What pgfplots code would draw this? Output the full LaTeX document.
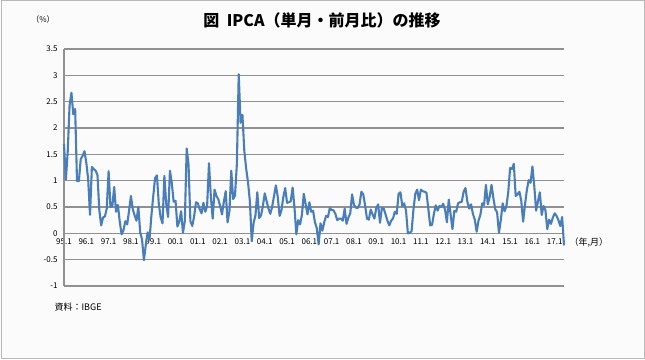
\documentclass[border=0pt]{standalone}
\usepackage{pgfplots}
\pgfplotsset{compat=1.18}
\usepackage{fontspec}
\setmainfont{Noto Sans CJK JP}
\definecolor{lineblue}{RGB}{74,126,187}
\definecolor{gridgray}{RGB}{145,145,145}
\begin{document}
\begin{tikzpicture}
\useasboundingbox (0pt,0pt) rectangle (645pt,359pt);
\fill[white!97!gray] (0pt,0pt) rectangle (645pt,359pt);
\node[font=\fontsize{16}{19}\selectfont\bfseries] at (322pt,339pt) {図\ \ IPCA（単月・前月比）の推移};
\node[font=\fontsize{8}{9}\selectfont] at (43pt,340pt) {（\%）};
\node[font=\fontsize{9}{10}\selectfont, anchor=west] at (566pt,116pt) {（年,月）};
\node[font=\fontsize{9}{10}\selectfont, anchor=west] at (51pt,52pt) {資料：IBGE};
\begin{axis}[
  at={(64pt,73pt)}, anchor=south west,
  width=500pt, height=237pt, scale only axis,
  xmin=0, xmax=269, ymin=-1, ymax=3.5,
  axis line style={draw=none},
  ytick={-1,-0.5,0,0.5,1,1.5,2,2.5,3,3.5},
  yticklabels={-1,-0.5,0,0.5,1,1.5,2,2.5,3,3.5},
  xtick={0,12,24,36,48,60,72,84,96,108,120,132,144,156,168,180,192,204,216,228,240,252,264},
  xticklabels={95.1,96.1,97.1,98.1,99.1,00.1,01.1,02.1,03.1,04.1,05.1,06.1,07.1,08.1,09.1,10.1,11.1,12.1,13.1,14.1,15.1,16.1,17.1},
  tick style={draw=none},
  tick label style={font=\fontsize{8}{9}\selectfont},
  xticklabel style={yshift=50.7pt},
  yticklabel style={xshift=-3pt},
  /pgf/number format/assume math mode=true,
  clip=false,
]
\addplot[gridgray, line width=1.2pt, forget plot] coordinates {(0,-1) (269,-1)};
\addplot[gridgray, line width=1.2pt, forget plot] coordinates {(0,-0.5) (269,-0.5)};
\addplot[gridgray, line width=1.2pt, forget plot] coordinates {(0,0) (269,0)};
\addplot[gridgray, line width=1.2pt, forget plot] coordinates {(0,0.5) (269,0.5)};
\addplot[gridgray, line width=1.2pt, forget plot] coordinates {(0,1) (269,1)};
\addplot[gridgray, line width=1.2pt, forget plot] coordinates {(0,1.5) (269,1.5)};
\addplot[gridgray, line width=1.2pt, forget plot] coordinates {(0,2) (269,2)};
\addplot[gridgray, line width=1.2pt, forget plot] coordinates {(0,2.5) (269,2.5)};
\addplot[gridgray, line width=1.2pt, forget plot] coordinates {(0,3) (269,3)};
\addplot[gridgray, line width=1.2pt, forget plot] coordinates {(0,3.5) (269,3.5)};
\addplot[gridgray, line width=1.2pt, forget plot] coordinates {(0,-1) (0,3.5)};
\addplot[lineblue, line width=2.1pt, line join=round] table[x expr=\coordindex, y index=0, header=false] {
1.70
1.02
1.55
2.43
2.67
2.26
2.36
0.99
0.99
1.41
1.47
1.56
1.34
1.03
0.35
1.26
1.22
1.19
1.11
0.44
0.15
0.30
0.32
0.47
1.18
0.50
0.51
0.88
0.41
0.54
0.22
-0.02
0.06
0.23
0.17
0.43
0.71
0.46
0.34
0.24
0.50
0.02
-0.12
-0.51
-0.22
0.02
-0.12
0.33
0.70
1.05
1.10
0.56
0.30
0.19
1.09
0.56
0.31
1.19
0.95
0.60
0.62
0.13
0.22
0.42
0.01
0.23
1.61
1.31
0.23
0.14
0.32
0.59
0.57
0.46
0.38
0.58
0.41
0.52
1.33
0.70
0.28
0.83
0.71
0.65
0.52
0.36
0.60
0.80
0.21
0.42
1.19
0.65
0.72
1.31
3.02
2.10
2.25
1.57
1.23
0.97
0.61
-0.15
0.20
0.34
0.78
0.29
0.34
0.52
0.76
0.61
0.47
0.37
0.51
0.71
0.91
0.69
0.33
0.44
0.69
0.86
0.58
0.59
0.61
0.87
0.49
-0.02
0.25
0.17
0.35
0.75
0.55
0.36
0.59
0.41
0.43
0.21
0.10
-0.21
0.19
0.05
0.21
0.33
0.31
0.48
0.44
0.44
0.37
0.25
0.28
0.28
0.24
0.47
0.18
0.30
0.38
0.74
0.54
0.49
0.48
0.55
0.79
0.74
0.53
0.28
0.26
0.45
0.36
0.28
0.48
0.55
0.20
0.48
0.47
0.36
0.24
0.15
0.24
0.28
0.41
0.37
0.75
0.78
0.52
0.57
0.43
0.00
0.01
0.04
0.45
0.75
0.83
0.63
0.83
0.80
0.79
0.77
0.47
0.15
0.16
0.37
0.53
0.43
0.52
0.50
0.56
0.45
0.21
0.64
0.36
0.08
0.43
0.41
0.57
0.59
0.60
0.79
0.86
0.60
0.47
0.55
0.37
0.26
0.03
0.24
0.35
0.57
0.54
0.92
0.55
0.69
0.92
0.67
0.46
0.40
0.01
0.25
0.57
0.42
0.51
0.78
1.24
1.22
1.32
0.71
0.74
0.79
0.62
0.22
0.54
0.82
1.01
0.96
1.27
0.90
0.43
0.61
0.78
0.35
0.52
0.44
0.08
0.26
0.18
0.30
0.38
0.33
0.25
0.14
0.31
-0.23
};
\end{axis}
\draw[gray!55, line width=1pt] (1pt,1pt) rectangle (644pt,358pt);
\end{tikzpicture}
\end{document}
